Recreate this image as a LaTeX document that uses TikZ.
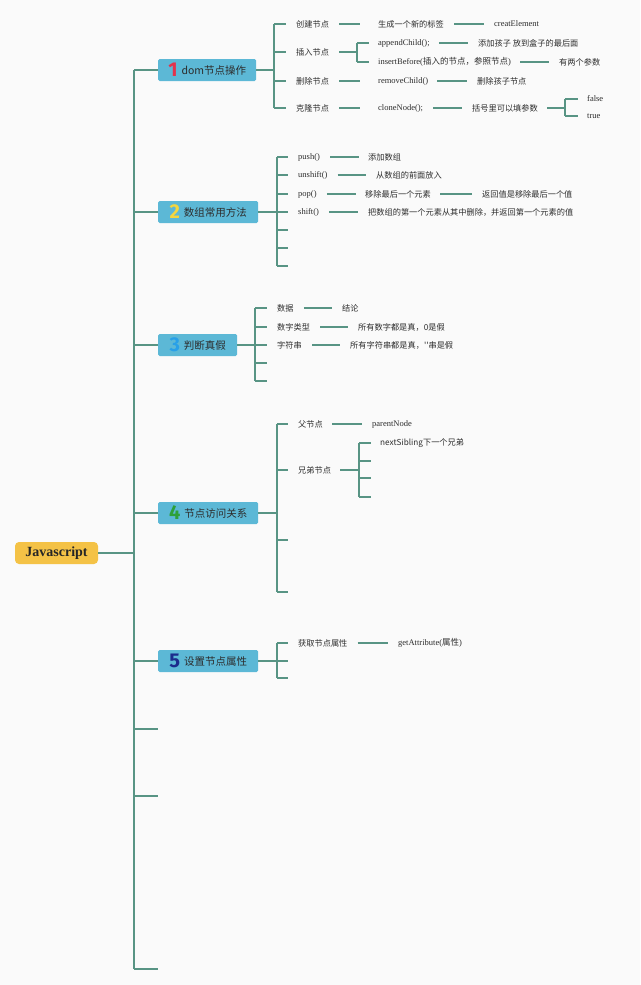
\documentclass[tikz,border=0pt]{standalone}
\usepackage{fontspec}
\setmainfont{Liberation Serif}
\newfontfamily\cjk{Noto Sans CJK SC}
\newfontfamily\numfont{Fira Sans}
\definecolor{lncol}{RGB}{88,148,132}
\definecolor{boxc}{RGB}{92,184,214}
\definecolor{rootc}{RGB}{244,194,70}
\definecolor{txt}{RGB}{45,45,45}
\definecolor{bg}{RGB}{250,250,250}
\definecolor{n1}{RGB}{226,50,76}
\definecolor{n2}{RGB}{244,214,62}
\definecolor{n3}{RGB}{40,160,232}
\definecolor{n4}{RGB}{46,160,58}
\definecolor{n5}{RGB}{28,44,140}
\newcommand\bnum[2]{\raisebox{-2.5pt}{\numfont\bfseries\fontsize{20}{20}\selectfont\color{#1}#2}\hspace{4pt}}
\tikzset{
  ln/.style={draw=lncol, line width=1.1pt},
  lbl/.style={anchor=west, inner sep=0pt, font=\cjk\fontsize{8.2}{10}\selectfont, text=txt},
  lat/.style={anchor=west, inner sep=0pt, font=\fontsize{8.5}{10}\selectfont, text=txt},
  br/.style={anchor=west, fill=boxc, rounded corners=1.5pt, minimum height=22pt, inner sep=0pt, font=\cjk\fontsize{10.5}{12}\selectfont, text=txt},
  rootbox/.style={fill=rootc, rounded corners=4pt, minimum width=83pt, minimum height=22pt, inner sep=0pt, font=\bfseries\fontsize{14}{14}\selectfont, text=black!85}
}
\begin{document}
\begin{tikzpicture}[x=1pt,y=-1pt]
\fill[bg] (0,0) rectangle (640,985);
\useasboundingbox (0,0) rectangle (640,985);

% root and trunk
\node[rootbox] (root) at (56.5,553) {Javascript};
\coordinate (T) at (134,0);
\node[br, minimum width=98pt] (b1) at (158,70) {\bnum{n1}{1}dom节点操作};
\node[br, minimum width=100pt] (b2) at (158,212) {\bnum{n2}{2}数组常用方法};
\node[br, minimum width=79pt] (b3) at (158,345) {\bnum{n3}{3}判断真假};
\node[br, minimum width=100pt] (b4) at (158,513) {\bnum{n4}{4}节点访问关系};
\node[br, minimum width=100pt] (b5) at (158,661) {\bnum{n5}{5}设置节点属性};
\coordinate (s6) at (158,729);
\coordinate (s7) at (158,796);
\coordinate (s8) at (158,969);
\draw[ln] (root.east) -- (T |- root.east);
\draw[ln] (T |- b1.west) -- (T |- s8);
\foreach \nm in {b1,b2,b3,b4,b5} \draw[ln] (T |- \nm.west) -- (\nm.west);
\foreach \nm in {s6,s7,s8} \draw[ln] (T |- \nm) -- (\nm);

% branch 1
\coordinate (V1) at (274,0);
\node[lbl] (c11) at (296,24) {创建节点};
\node[lbl] (c12) at (296,52) {插入节点};
\node[lbl] (c13) at (296,81) {删除节点};
\node[lbl] (c14) at (296,108) {克隆节点};
\draw[ln] (b1.east) -- (V1 |- b1.east);
\draw[ln] (V1 |- c11.west) -- (V1 |- c14.west);
\foreach \nm in {c11,c12,c13,c14} \draw[ln] (V1 |- \nm.west) -- ([xshift=-10pt]\nm.west);

\node[lbl] (d11) at (378,24) {生成一个新的标签};
\node[lat] (e11) at (494,24) {creatElement};
\draw[ln] ([xshift=10pt]c11.east) -- ([xshift=-18pt]d11.west);
\draw[ln] ([xshift=10pt]d11.east) -- ([xshift=-10pt]e11.west);

\coordinate (V12) at (357,0);
\node[lat] (d12a) at (378,43) {appendChild();};
\node[lat] (d12b) at (378,62) {insertBefore({\cjk 插入的节点，参照节点})};
\draw[ln] ([xshift=10pt]c12.east) -- (V12 |- c12.east);
\draw[ln] (V12 |- d12a.west) -- (V12 |- d12b.west);
\foreach \nm in {d12a,d12b} \draw[ln] (V12 |- \nm.west) -- ([xshift=-9pt]\nm.west);
\node[lbl] (e12a) at (478,43) {添加孩子 放到盒子的最后面};
\node[lbl] (e12b) at (559,62) {有两个参数};
\draw[ln] ([xshift=9pt]d12a.east) -- ([xshift=-10pt]e12a.west);
\draw[ln] ([xshift=9pt]d12b.east) -- ([xshift=-10pt]e12b.west);

\node[lat] (d13) at (378,81) {removeChild()};
\node[lbl] (e13) at (477,81) {删除孩子节点};
\draw[ln] ([xshift=10pt]c13.east) -- ([xshift=-18pt]d13.west);
\draw[ln] ([xshift=9pt]d13.east) -- ([xshift=-10pt]e13.west);

\node[lat] (d14) at (378,108) {cloneNode();};
\node[lbl] (e14) at (472,108) {括号里可以填参数};
\draw[ln] ([xshift=10pt]c14.east) -- ([xshift=-18pt]d14.west);
\draw[ln] ([xshift=10pt]d14.east) -- ([xshift=-10pt]e14.west);
\coordinate (V14) at (565,0);
\node[lat] (f14a) at (587,99) {false};
\node[lat] (f14b) at (587,116) {true};
\draw[ln] ([xshift=9pt]e14.east) -- (V14 |- e14.east);
\draw[ln] (V14 |- f14a.west) -- (V14 |- f14b.west);
\foreach \nm in {f14a,f14b} \draw[ln] (V14 |- \nm.west) -- ([xshift=-9pt]\nm.west);

% branch 2
\coordinate (V2) at (277,0);
\node[lat] (c21) at (298,157) {push()};
\node[lat] (c22) at (298,175) {unshift()};
\node[lat] (c23) at (298,194) {pop()};
\node[lat] (c24) at (298,212) {shift()};
\coordinate (c25) at (288,230);
\coordinate (c26) at (288,248);
\coordinate (c27) at (288,266);
\draw[ln] (b2.east) -- (V2 |- b2.east);
\draw[ln] (V2 |- c21.west) -- (V2 |- c27);
\foreach \nm in {c21,c22,c23,c24} \draw[ln] (V2 |- \nm.west) -- ([xshift=-10pt]\nm.west);
\foreach \nm in {c25,c26,c27} \draw[ln] (V2 |- \nm) -- (\nm);
\node[lbl] (d21) at (368,157) {添加数组};
\node[lbl] (d22) at (376,175) {从数组的前面放入};
\node[lbl] (d23) at (365,194) {移除最后一个元素};
\node[lbl] (e23) at (482,194) {返回值是移除最后一个值};
\node[lbl] (d24) at (368,212) {把数组的第一个元素从其中删除，并返回第一个元素的值};
\draw[ln] ([xshift=10pt]c21.east) -- ([xshift=-9pt]d21.west);
\draw[ln] ([xshift=10pt]c22.east) -- ([xshift=-10pt]d22.west);
\draw[ln] ([xshift=10pt]c23.east) -- ([xshift=-9pt]d23.west);
\draw[ln] ([xshift=9pt]d23.east) -- ([xshift=-10pt]e23.west);
\draw[ln] ([xshift=10pt]c24.east) -- ([xshift=-10pt]d24.west);

% branch 3
\coordinate (V3) at (255,0);
\node[lbl] (c31) at (277,308) {数据};
\node[lbl] (c32) at (277,327) {数字类型};
\node[lbl] (c33) at (277,345) {字符串};
\coordinate (c34) at (267,363);
\coordinate (c35) at (267,381);
\draw[ln] (b3.east) -- (V3 |- b3.east);
\draw[ln] (V3 |- c31.west) -- (V3 |- c35);
\foreach \nm in {c31,c32,c33} \draw[ln] (V3 |- \nm.west) -- ([xshift=-10pt]\nm.west);
\foreach \nm in {c34,c35} \draw[ln] (V3 |- \nm) -- (\nm);
\node[lbl] (d31) at (342,308) {结论};
\node[lbl] (d32) at (358,327) {所有数字都是真，0是假};
\node[lbl] (d33) at (350,345) {所有字符串都是真，{'}{'}串是假};
\draw[ln] ([xshift=10pt]c31.east) -- ([xshift=-10pt]d31.west);
\draw[ln] ([xshift=10pt]c32.east) -- ([xshift=-10pt]d32.west);
\draw[ln] ([xshift=10pt]c33.east) -- ([xshift=-10pt]d33.west);

% branch 4
\coordinate (V4) at (277,0);
\node[lbl] (c41) at (298,424) {父节点};
\node[lbl] (c42) at (298,470) {兄弟节点};
\coordinate (c43) at (288,540);
\coordinate (c44) at (288,592);
\draw[ln] (b4.east) -- (V4 |- b4.east);
\draw[ln] (V4 |- c41.west) -- (V4 |- c44);
\foreach \nm in {c41,c42} \draw[ln] (V4 |- \nm.west) -- ([xshift=-10pt]\nm.west);
\foreach \nm in {c43,c44} \draw[ln] (V4 |- \nm) -- (\nm);
\node[lat] (d41) at (372,424) {parentNode};
\draw[ln] ([xshift=9pt]c41.east) -- ([xshift=-10pt]d41.west);
\coordinate (V42) at (359,0);
\node[lbl] (d42a) at (380,443) {nextSibling下一个兄弟};
\coordinate (d42b) at (371,461);
\coordinate (d42c) at (371,478);
\coordinate (d42d) at (371,497);
\draw[ln] ([xshift=9pt]c42.east) -- (V42 |- c42.east);
\draw[ln] (V42 |- d42a.west) -- (V42 |- d42d);
\draw[ln] (V42 |- d42a.west) -- ([xshift=-9pt]d42a.west);
\foreach \nm in {d42b,d42c,d42d} \draw[ln] (V42 |- \nm) -- (\nm);

% branch 5
\coordinate (V5) at (277,0);
\node[lbl] (c51) at (298,643) {获取节点属性};
\coordinate (c52) at (288,661);
\coordinate (c53) at (288,678);
\draw[ln] (b5.east) -- (V5 |- b5.east);
\draw[ln] (V5 |- c51.west) -- (V5 |- c53);
\draw[ln] (V5 |- c51.west) -- ([xshift=-10pt]c51.west);
\foreach \nm in {c52,c53} \draw[ln] (V5 |- \nm) -- (\nm);
\node[lat] (d51) at (398,643) {getAttribute({\cjk 属性})};
\draw[ln] ([xshift=10pt]c51.east) -- ([xshift=-10pt]d51.west);
\end{tikzpicture}
\end{document}
